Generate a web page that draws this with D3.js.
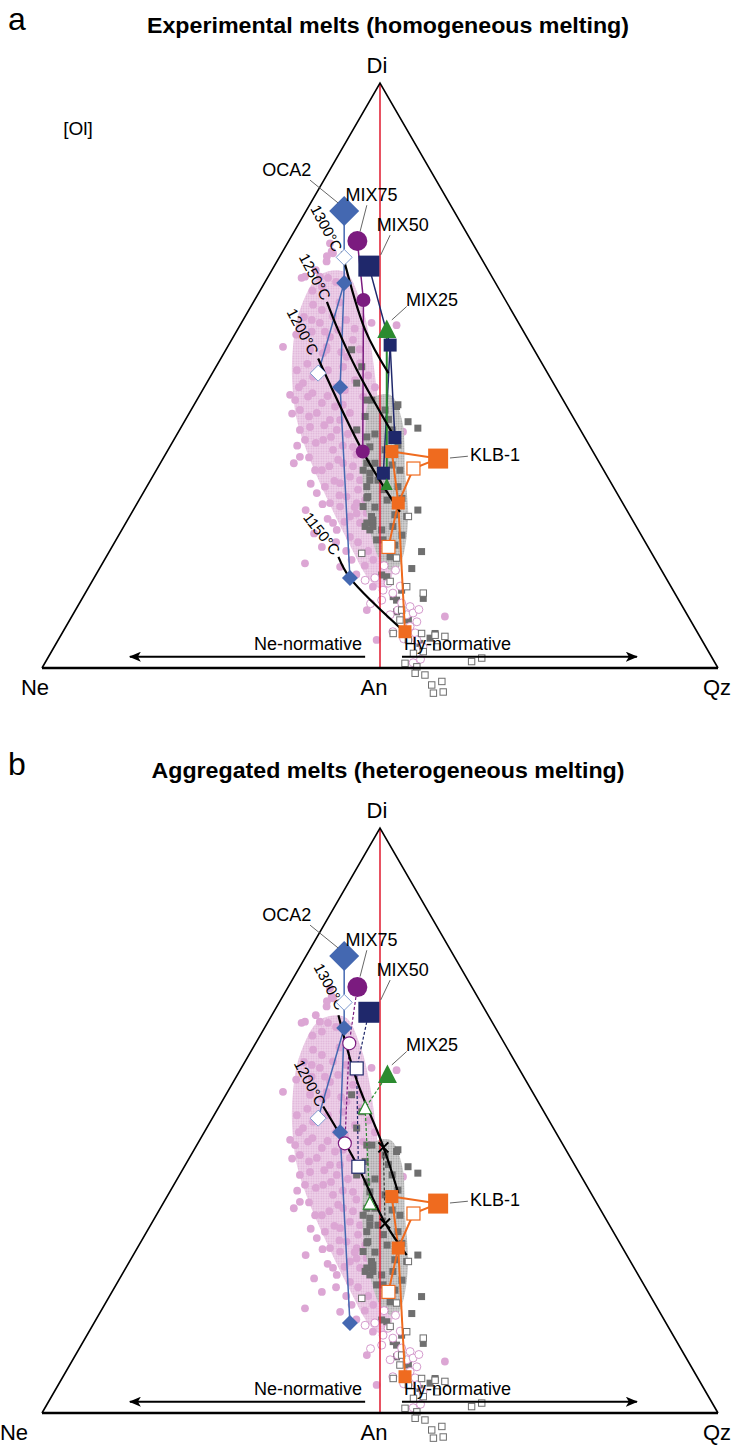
<!DOCTYPE html>
<html><head><meta charset="utf-8">
<script src="https://cdn.jsdelivr.net/npm/d3@7"></script>
<style>body{margin:0;background:#fff;} svg{display:block;font-family:"Liberation Sans",Arial,sans-serif;}</style>
</head><body><svg id="c" width="731" height="1445"></svg>
<script>
// ---------- DATA (x: Ne(-100) .. An(0) .. Qz(+100); y: Di % 0..100) ----------
const vertexNames = ["Ne", "An", "Qz", "Di"];
const vertexPos = [[-100, 0], [0, 0], [100, 0], [0, 100]];

const pinkField = [[-17.8,67.2],[-10.4,67.7],[-5.9,62.9],[-3.0,56.1],[-0.6,45.8],[1.5,35.6],[3.6,25.3],[4.4,18.5],[1.5,13.3],[-3.0,15.0],[-8.9,21.0],[-14.8,27.9],[-20.7,35.6],[-24.6,42.4],[-26.0,49.2],[-25.7,55.2],[-23.7,61.2]];
const grayField = [[-3.0,45.8],[3.0,46.7],[6.5,42.4],[7.4,33.8],[8.3,25.3],[6.5,18.5],[4.4,16.4],[0,18.5],[-3.6,25.3],[-5.3,33.8],[-4.4,40.7]];

const pinkDots = [[-14.8,72.6],[-14.3,71.2],[-15.7,70.4],[-23.2,66.7],[-22.2,66.9],[-17.8,66.9],[-15.4,66.7],[-17.2,65.2],[4.9,58.6],[-2.5,59.0],[-28.7,54.9],[-20.2,59.5],[-17.8,59.0],[-16.3,57.5],[-15.8,54.9],[-13.9,70.9],[-15.8,69.5],[-19.8,62.1],[-17.2,61.2],[-13.9,60.1],[-12.4,57.8],[-14.8,56.6],[-20.2,57.5],[-16.9,53.8],[-24.6,50.9],[-23.7,36.1],[-17.2,33.8],[-18.7,29.9],[-14.8,28.2],[-16.3,31.0],[-20.7,41.2],[-18.7,43.6],[-14.8,42.4],[-12.8,40.7],[-16.8,39.0],[-13.9,37.3],[-10.9,35.0],[-8.9,32.7],[-11.8,31.6],[-9.9,29.3],[-6.9,28.2],[-13.9,24.8],[-8.9,25.9],[-5.9,24.8],[-22.8,48.7],[-21.3,46.4],[-17.2,45.3],[-13.3,44.7],[-8.9,43.6],[-6.9,40.7],[-8.0,37.8],[-23.7,44.1],[-19.8,49.8],[-15.4,50.9],[-10.9,51.5],[-9.9,53.2],[-15.8,54.4],[-20.7,54.4],[-8.0,56.1],[-5.9,52.1],[-5.0,46.4],[-2.1,42.4],[-22.2,17.9],[-17.2,20.7],[-12.8,23.6],[-8.9,22.4],[-11.8,27.6],[-6.9,26.4],[-5.4,19.6],[-8.4,18.5],[-11.8,17.3],[-3.9,9.9],[-1.0,4.8],[19.2,8.8],[-2.1,13.9],[6.8,40.4],[-25.1,45.8],[-22.2,39.0],[-19.2,33.8],[-12.4,35.6],[-5.9,32.1],[-4.4,28.7],[-10.4,47.5],[-7.4,49.2],[-11.8,42.4],[-23.7,40.7],[-26.6,46.7],
 [-22.5,60.0],[-20.0,64.5],[-24.8,57.0],[-21.5,52.0],[-18.0,50.5],[-13.0,48.0],[-24.0,48.0],[-20.0,47.0],[-15.5,46.5],[-11.0,45.0],[-26.0,43.5],[-21.0,43.0],[-16.5,41.5],[-9.5,40.0],[-24.5,38.0],[-19.0,38.5],[-14.5,39.5],[-11.0,38.0],[-7.0,36.5],[-21.0,36.0],[-15.0,34.5],[-8.0,34.5],[-20.5,31.5],[-13.5,32.0],[-6.5,30.5],[-17.0,28.0],[-12.0,29.5],[-7.5,27.5],[-15.5,25.5],[-10.5,25.0],[-4.0,26.5],[-13.0,21.5],[-10.0,20.0],[-6.5,21.5],[-3.5,20.0],[-7.0,16.0],[-4.5,17.5],[-2.0,18.5],[-19.5,23.0],[-22.0,27.0],[-25.5,35.0],[-12.0,62.5],[-10.0,59.5],[-7.5,58.0],[-19.0,68.0],[-13.0,66.0],[-11.5,54.0],[-6.0,54.5],[-3.5,50.0],[-1.5,48.0],[-2.5,38.0],[-1.0,30.0],[0.5,27.0],[-0.5,36.0]];
const pinkOpen = [[-4.4,15.0],[-1.5,15.4],[0.9,13.3],[2.4,14.5],[3.8,12.8],[0.5,11.6],[6.4,11.1],[8.9,10.5],[7.9,9.1],[9.8,9.4],[3.0,9.1],[5.3,9.9],[10.9,7.9],[8.9,7.1],[10.4,6.0],[3.8,6.2],[10.9,4.8],[9.8,0.9],[12.7,3.6],[4.6,16.7],[1.2,17.5],[6.0,14.0],[11.5,10.0],[7.0,5.0],[12.0,1.5],[-2.8,11.0]];
const graySquares = [[-8.4,54.4],[-5.4,51.5],[-6.9,48.7],[-3.9,45.8],[-4.4,43.0],[-6.9,40.7],[-3.9,39.5],[-3.0,37.8],[-3.9,35.0],[-5.0,33.8],[-3.0,33.3],[-3.9,31.0],[-3.6,29.3],[-5.0,27.6],[-2.5,25.9],[-3.9,24.8],[-2.1,24.2],[8.3,42.1],[11.2,41.0],[4.9,44.7],[5.3,31.0],[5.9,33.8],[7.9,25.9],[11.2,27.0],[3.8,24.2],[5.3,45.0],[5.3,38.1],[-1.5,35.0],[-3.0,32.1],[-3.9,29.1],[-2.1,25.3],[-4.4,24.2],[12.3,19.9],[9.4,17.0],[0.5,15.9],[12.8,11.9],[4.9,11.6],[3.9,12.2],[-3.0,23.6],[0.5,23.6],[-1.0,21.9],[3.0,19.0],[2.0,15.6],[6.4,13.3],[4.9,9.6],[8.4,8.2],[10.9,5.9],[14.8,5.1],[16.3,5.9],[11.8,4.2],[1.5,44.1],[3.6,40.7],[1.5,37.3],[3.6,34.7],[2.1,28.7],[4.4,26.2],[0.9,21.9],[4.4,21.0],[6.5,22.7],[-0.6,32.1],[-2.4,45.8],[-1.5,40.0],[1.0,30.5],[6.5,29.0],[-1.5,27.5],[2.5,42.5]];
const grayOpen = [[-5.4,19.6],[8.4,25.9],[4.9,18.8],[3.0,14.8],[7.9,13.9],[12.8,12.8],[6.4,9.9],[5.9,8.2],[3.9,5.9],[8.4,4.8],[12.3,5.9],[16.3,5.6],[9.9,2.5],[12.8,2.8],[7.4,0.8],[10.9,0.2],[10.4,-0.9],[13.3,-1.2],[15.3,-2.9],[18.3,-2.3],[15.8,-4.3],[18.7,-4.1],[27.1,1.1],[30.1,1.7],[19.2,5.4],[16.8,3.6]];

// experimental series (first point = starting composition)
const oca2 = [[-10.6,78.1],[-10.6,70.2],[-10.6,65.8],[-18.3,50.4],[-11.8,48.0],[-8.9,15.4]];
const klb1 = [[17.2,35.8],[3.5,37.0],[9.9,34.1],[5.4,28.2],[2.5,20.7],[7.4,6.2]];
const mix75a = [[-6.7,73.0],[-4.9,62.9],[-5.1,37.0]];
const mix50a = [[-3.3,68.7],[3.0,55.2],[4.4,39.4],[1.0,33.3]];
const mix25a = [[2.0,57.8],[2.0,31.3]];
const mix75b = [[-6.7,72.8],[-9.1,63.2],[-10.4,46.1]];
const mix50b = [[-3.3,68.5],[-6.9,58.9],[-6.4,42.1]];
const mix25b = [[2.2,57.8],[-4.4,52.1],[-3.0,35.8]];
const crossB = [[1.0,45.4],[1.5,32.4]];

// isotherms
const isoNamesA = ["1300°C","1250°C","1200°C","1150°C"];
const isoLinesA = [
  [[-11.3,71.2],[-4.4,57.8],[2.5,50.4]],
  [[-15.7,62.6],[-12.4,57.8],[-6.8,50.9],[4.1,39.7]],
  [[-18.3,52.9],[-5.0,36.9],[5.9,26.7]],
  [[-12.3,19.0],[-8.9,15.4],[8.9,5.3]]];
const isoLabelA = [[-15.8,75.2],[-19.2,66.9],[-22.8,57.5],[-17.2,23.0]];
const isoNamesB = ["1300°C","1200°C"];
const isoLinesB = [
  [[-12.3,68.0],[-6.9,56.9],[1.0,45.5],[5.4,37.6]],
  [[-16.8,52.4],[-10.4,46.2],[-6.5,42.1],[1.5,32.5],[7.9,27.0]]];
const isoLabelB = [[-14.8,72.9],[-20.7,56.4]];

// annotation labels
const seriesNames = ["OCA2","MIX75","MIX50","MIX25","KLB-1"];
const seriesLabelPos = [[-27.6,85.1],[-2.5,80.9],[6.7,75.7],[15.4,62.9],[26.6,36.4]];
const leaders = [[[-20.7,83.4],[-12.4,79.5]],[[-3.9,79.1],[-5.9,74.6]],[[3.0,74.0],[0.2,70.6]],[[7.9,61.8],[3.5,59.5]],[[20.7,35.9],[26.0,36.2]]];
const titles = ["Experimental melts (homogeneous melting)","Aggregated melts (heterogeneous melting)"];
const panelLetters = ["a","b"];
const normLabels = ["Ne-normative","Hy-normative"];
const arrows = [[[-4.4,1.93],[-74.0,1.93]],[[6.5,1.93],[76.0,1.93]]];

// ---------- DRAWING ----------
const C = {oca:"#4468b1", m75:"#7b1b7f", m50:"#1f286b", m25:"#2b8b2f", klb:"#ef6b1f", red:"#e3263a"};
const svg = d3.select("#c");
const defs = svg.append("defs");
function dotPattern(id, bg, fg, r){
  const p = defs.append("pattern").attr("id",id).attr("width",2.5).attr("height",2.5).attr("patternUnits","userSpaceOnUse");
  p.append("rect").attr("width",2.5).attr("height",2.5).attr("fill",bg);
  p.append("circle").attr("cx",1.25).attr("cy",1.25).attr("r",r).attr("fill",fg);
}
dotPattern("pinkPat","#efd3ea","#dcaed5",0.8);
dotPattern("grayPat","#cfcfcf","#979797",0.8);
const arrowHead = defs.append("marker").attr("id","arr").attr("viewBox","0 0 12 10").attr("refX",11).attr("refY",5)
  .attr("markerWidth",12).attr("markerHeight",10).attr("markerUnits","userSpaceOnUse").attr("orient","auto");
arrowHead.append("path").attr("d","M0,0 L12,5 L0,10 L3,5 Z").attr("fill","#000");

const x = d3.scaleLinear().domain([-100,100]).range([42,718]);

function sym(g, type, p, s, fill, stroke, sw){
  let el;
  const cx = p[0], cy = p[1];
  if(type==="diamond") el = g.append("path").attr("d",`M${cx},${cy-s}L${cx+s},${cy}L${cx},${cy+s}L${cx-s},${cy}Z`);
  else if(type==="square") el = g.append("rect").attr("x",cx-s).attr("y",cy-s).attr("width",2*s).attr("height",2*s);
  else if(type==="circle") el = g.append("circle").attr("cx",cx).attr("cy",cy).attr("r",s);
  else if(type==="triangle") el = g.append("path").attr("d",`M${cx},${cy-s*1.1}L${cx+s},${cy+s*0.85}L${cx-s},${cy+s*0.85}Z`);
  else if(type==="x") { el = g.append("path").attr("d",`M${cx-s},${cy-s}L${cx+s},${cy+s}M${cx-s},${cy+s}L${cx+s},${cy-s}`).attr("fill","none"); }
  if(type!=="x") el.attr("fill",fill);
  el.attr("stroke",stroke||"none").attr("stroke-width",sw||1);
  return el;
}

function drawPanel(idx){
  const off = idx*745;
  const y = d3.scaleLinear().domain([0,100]).range([668+off, 83+off]);
  const P = d => [x(d[0]), y(d[1])];
  const g = svg.append("g");
  const line = d3.line().x(d=>x(d[0])).y(d=>y(d[1]));
  const curve = d3.line().x(d=>x(d[0])).y(d=>y(d[1])).curve(d3.curveCatmullRom.alpha(0.5));
  const closed = d3.line().x(d=>x(d[0])).y(d=>y(d[1])).curve(d3.curveCatmullRomClosed.alpha(0.5));

  // fields
  g.append("path").attr("d",closed(pinkField)).attr("fill","url(#pinkPat)");
  pinkDots.forEach(d=>sym(g,"circle",P(d),3.9,"#dca6d4","none"));
  g.append("path").attr("d",closed(grayField)).attr("fill","url(#grayPat)").attr("opacity",0.92);
  graySquares.forEach(d=>sym(g,"square",P(d),3.5,"#6f6f6f","none"));
  pinkOpen.forEach(d=>sym(g,"circle",P(d),4,"#fff","#cf8fc6",0.9));
  grayOpen.forEach(d=>sym(g,"square",P(d),3.2,"#fff","#6e6e6e",1));

  // red An-Di line and triangle
  g.append("path").attr("d",line([vertexPos[1],vertexPos[3]])).attr("stroke",C.red).attr("stroke-width",1.6);
  g.append("path").attr("d",line([vertexPos[0],vertexPos[3],vertexPos[2]])).attr("fill","none").attr("stroke","#000").attr("stroke-width",1.6);
  g.append("path").attr("d",line([vertexPos[0],vertexPos[2]])).attr("stroke","#000").attr("stroke-width",2.6);

  // arrows + normative labels
  arrows.forEach(a=>g.append("path").attr("d",line(a)).attr("stroke","#000").attr("stroke-width",2).attr("marker-end","url(#arr)"));
  g.append("text").attr("x",x(-5.3)).attr("y",y(3.1)).attr("text-anchor","end").attr("font-size",18).text(normLabels[0]);
  g.append("text").attr("x",x(7.1)).attr("y",y(3.1)).attr("text-anchor","start").attr("font-size",18).text(normLabels[1]);

  // series lines
  const lw = 1.5;
  [[0,1,2],[2,3],[2,4,5]].forEach(ix=>g.append("path").attr("d",line(ix.map(i=>oca2[i]))).attr("fill","none").attr("stroke",C.oca).attr("stroke-width",lw));
  [[0,1],[0,2],[1,3],[2,3],[3,4],[3,5]].forEach(ix=>g.append("path").attr("d",line(ix.map(i=>klb1[i]))).attr("fill","none").attr("stroke",C.klb).attr("stroke-width",2));
  if(idx===0){
    g.append("path").attr("d",line(mix75a)).attr("fill","none").attr("stroke",C.m75).attr("stroke-width",lw);
    [[0,1,2],[1,3]].forEach(ix=>g.append("path").attr("d",line(ix.map(i=>mix50a[i]))).attr("fill","none").attr("stroke",C.m50).attr("stroke-width",lw));
    g.append("path").attr("d",line(mix25a)).attr("fill","none").attr("stroke",C.m25).attr("stroke-width",2);
  } else {
    g.append("path").attr("d",line(mix75b)).attr("fill","none").attr("stroke",C.m75).attr("stroke-width",1.2).attr("stroke-dasharray","3,2");
    g.append("path").attr("d",line(mix50b)).attr("fill","none").attr("stroke",C.m50).attr("stroke-width",1.2).attr("stroke-dasharray","3,2");
    g.append("path").attr("d",line(mix25b)).attr("fill","none").attr("stroke",C.m25).attr("stroke-width",1.2).attr("stroke-dasharray","3,2");
    g.append("path").attr("d",line(crossB)).attr("fill","none").attr("stroke","#333").attr("stroke-width",1.2).attr("stroke-dasharray","3,2");
  }

  // isotherms
  const isoL = idx===0?isoLinesA:isoLinesB, isoN = idx===0?isoNamesA:isoNamesB, isoP = idx===0?isoLabelA:isoLabelB;
  isoL.forEach(l=>g.append("path").attr("d",curve(l)).attr("fill","none").attr("stroke","#000").attr("stroke-width",2.2));
  isoN.forEach((t,i)=>{
    const p = P(isoP[i]);
    const rot = (idx===0 && i===3) ? 52 : 62;
    g.append("text").attr("x",p[0]).attr("y",p[1]).attr("text-anchor","middle").attr("dominant-baseline","central")
      .attr("font-size",15).attr("transform",`rotate(${rot},${p[0]},${p[1]})`).text(t);
  });

  // symbols
  sym(g,"diamond",P(oca2[0]),15,C.oca,"none");
  oca2.slice(1).forEach((d,i)=>{
    const hollow = (i===0||i===2);
    sym(g,"diamond",P(d),8,hollow?"#fff":C.oca,hollow?"#7f9bd0":"none",1);
  });
  if(idx===0){
    sym(g,"circle",P(mix75a[0]),10,C.m75,"none");
    mix75a.slice(1).forEach(d=>sym(g,"circle",P(d),7,C.m75,"none"));
    sym(g,"square",P(mix50a[0]),10.5,C.m50,"none");
    mix50a.slice(1).forEach(d=>sym(g,"square",P(d),6.5,C.m50,"none"));
    sym(g,"triangle",P(mix25a[0]),9.5,C.m25,"none");
    mix25a.slice(1).forEach(d=>sym(g,"triangle",P(d),6,C.m25,"none"));
  } else {
    sym(g,"circle",P(mix75b[0]),10,C.m75,"none");
    mix75b.slice(1).forEach(d=>sym(g,"circle",P(d),6.5,"#fff",C.m75,1.2));
    sym(g,"square",P(mix50b[0]),10.5,C.m50,"none");
    mix50b.slice(1).forEach(d=>sym(g,"square",P(d),6.5,"#fff",C.m50,1.2));
    sym(g,"triangle",P(mix25b[0]),9.5,C.m25,"none");
    mix25b.slice(1).forEach(d=>sym(g,"triangle",P(d),6.5,"#fff",C.m25,1.2));
    crossB.forEach(d=>sym(g,"x",P(d),5,null,"#000",2));
  }
  sym(g,"square",P(klb1[0]),10,C.klb,"none");
  klb1.slice(1).forEach((d,i)=>{
    const hollow = (i===1||i===3);
    sym(g,"square",P(d),6.5,hollow?"#fff":C.klb,hollow?C.klb:"none",1.2);
  });

  // leaders + series labels
  leaders.forEach(l=>g.append("path").attr("d",line(l)).attr("stroke","#555").attr("stroke-width",0.9));
  seriesNames.forEach((t,i)=>{
    const p = P(seriesLabelPos[i]);
    g.append("text").attr("x",p[0]).attr("y",p[1]).attr("dominant-baseline","central")
      .attr("text-anchor", i===4?"start":"middle").attr("font-size",18).text(t);
  });

  // vertex labels
  g.append("text").attr("x",idx===0?35:14).attr("y",y(0)+19).attr("text-anchor","middle").attr("dominant-baseline","central").attr("font-size",22).text(vertexNames[0]);
  g.append("text").attr("x",x(vertexPos[1][0])-6).attr("y",y(0)+19).attr("text-anchor","middle").attr("dominant-baseline","central").attr("font-size",22).text(vertexNames[1]);
  g.append("text").attr("x",x(vertexPos[2][0])-1).attr("y",y(0)+19).attr("text-anchor","middle").attr("dominant-baseline","central").attr("font-size",22).text(vertexNames[2]);
  g.append("text").attr("x",x(vertexPos[3][0])-3).attr("y",y(100)-18).attr("text-anchor","middle").attr("dominant-baseline","central").attr("font-size",22).text(vertexNames[3]);

  if(idx===0) g.append("text").attr("x",78).attr("y",y(100)+45).attr("text-anchor","middle").attr("dominant-baseline","central").attr("font-size",19).text("[Ol]");

  g.append("text").attr("x",388).attr("y",off+33).attr("text-anchor","middle").attr("font-size",22).attr("font-weight","bold")
    .attr("textLength", idx===0?482:473).attr("lengthAdjust","spacingAndGlyphs").text(titles[idx]);
  g.append("text").attr("x",8).attr("y",off+30).attr("font-size",32).text(panelLetters[idx]);
}
drawPanel(0);
drawPanel(1);
</script>
</body></html>
